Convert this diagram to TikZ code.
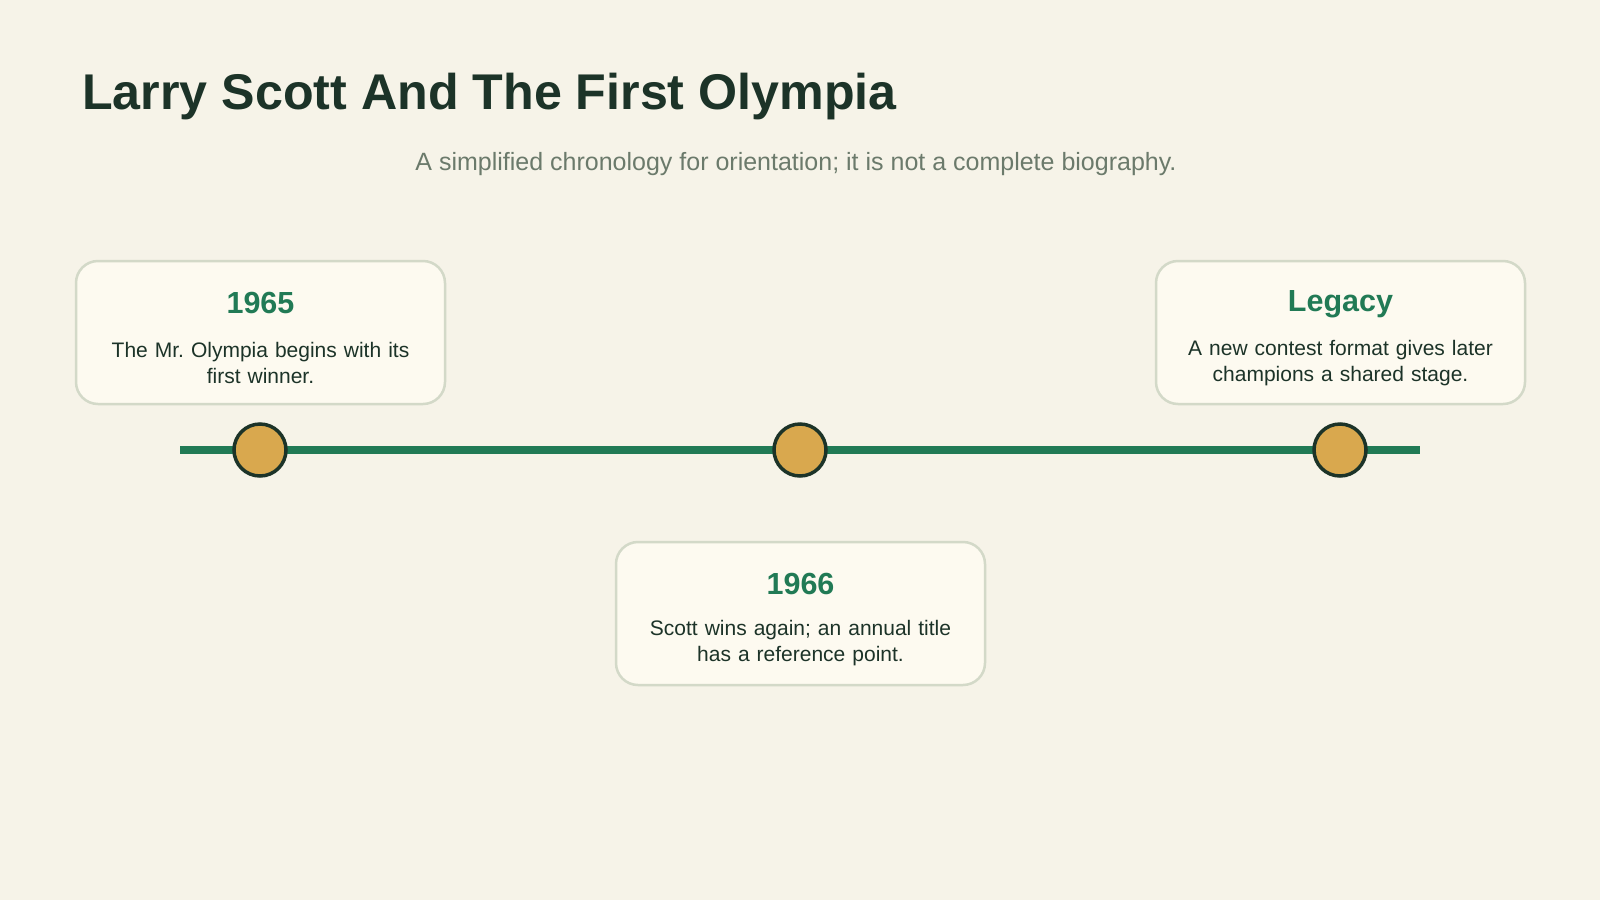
\documentclass[tikz,border=0pt]{standalone}
\usepackage{fontspec}
\setmainfont{Liberation Sans}
\frenchspacing
\definecolor{bg}{HTML}{F6F3E8}
\definecolor{boxfill}{HTML}{FDFAF0}
\definecolor{boxline}{HTML}{D3D9C8}
\definecolor{ink}{HTML}{1C3328}
\definecolor{accent}{HTML}{217A55}
\definecolor{dotfill}{HTML}{D9A84E}
\definecolor{subgrey}{HTML}{6B7A6B}
\tikzset{
  card/.style={draw=boxline, line width=2.5pt, fill=boxfill, rounded corners=22pt,
    minimum width=369pt, minimum height=143pt, inner sep=0pt},
  yeartext/.style={text=accent, font=\fontsize{30.5}{34}\selectfont\bfseries},
  bodytext/.style={text=ink, font=\fontsize{21}{26}\selectfont, align=center, text width=345pt},
  dot/.style={circle, draw=ink, line width=3.5pt, fill=dotfill, minimum size=52pt, inner sep=0pt},
  axis/.style={draw=accent, line width=8pt}
}
\begin{document}
\begin{tikzpicture}[x=1pt,y=-1pt]
\fill[bg] (0,0) rectangle (1600,900);
\useasboundingbox (0,0) rectangle (1600,900);
\node[anchor=base west, text=ink, font=\fontsize{50.2}{58}\selectfont\bfseries, inner sep=0pt] (title) at (82,109) {Larry Scott And The First Olympia};
\node[anchor=base, text=subgrey, font=\fontsize{25}{30}\selectfont, inner sep=0pt] (sub) at (796,170) {A simplified chronology for orientation; it is not a complete biography.};
% timeline
\coordinate (ls) at (180,450);
\coordinate (le) at (1420,450);
\draw[axis] (ls) -- (le);
% cards
\node[card] (c1) at (260.5,332.5) {};
\node[card] (c2) at (800.5,613.5) {};
\node[card] (c3) at (1340.5,332.5) {};
% dots
\node[dot] (d1) at (260,450) {};
\node[dot] (d2) at (800,450) {};
\node[dot] (d3) at (1340,450) {};
% texts
\node[yeartext, anchor=base, inner sep=0pt] (y1) at (260.5,313) {1965};
\node[bodytext, anchor=base, inner sep=0pt] (b1) at (260.5,357) {The Mr. Olympia begins with its\\first winner.};
\node[yeartext, anchor=base, inner sep=0pt] (y2) at (800.5,594) {1966};
\node[bodytext, anchor=base, inner sep=0pt] (b2) at (800.5,635) {Scott wins again; an annual title\\has a reference point.};
\node[yeartext, anchor=base, inner sep=0pt] (y3) at (1340.5,311) {Legacy};
\node[bodytext, anchor=base, inner sep=0pt] (b3) at (1340.5,355) {A new contest format gives later\\champions a shared stage.};
\end{tikzpicture}
\end{document}
